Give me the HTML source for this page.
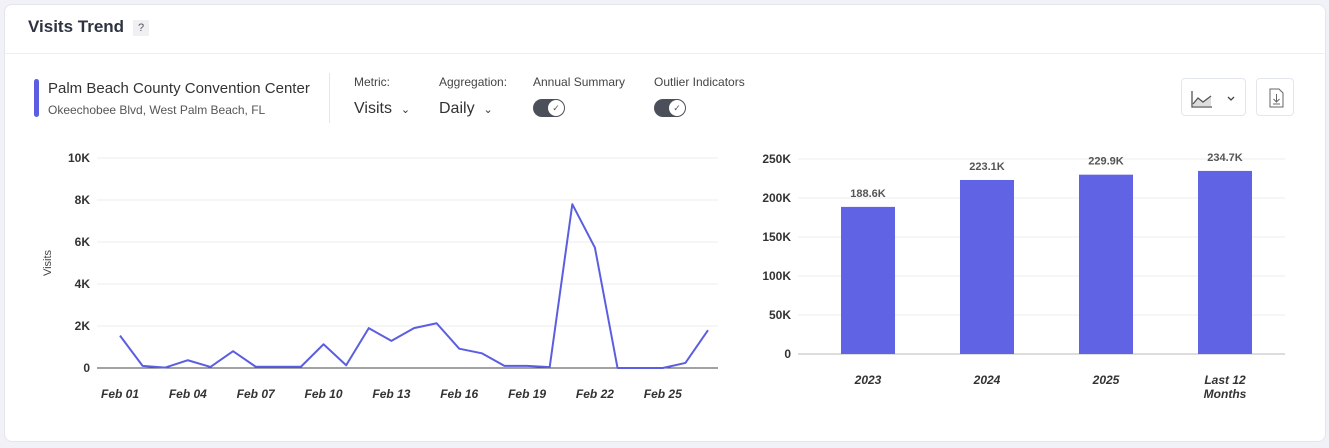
<!DOCTYPE html>
<html><head><meta charset="utf-8"><style>
body{margin:0;width:1329px;height:448px;background:#f0f2f7;font-family:"Liberation Sans",sans-serif;overflow:hidden;position:relative}
.card{position:absolute;left:4px;top:4px;width:1320px;height:436px;background:#fff;border:1px solid #e3e6ec;border-radius:8px}
.abs{position:absolute}
.t{color:#333}
</style></head><body>
<div class="card"></div>
<div class="abs t" style="left:28px;top:17px;font-size:17px;font-weight:bold;color:#2d3340">Visits Trend</div>
<div class="abs" style="left:133px;top:20px;width:16px;height:16px;background:#eef0f3;font-size:11px;text-align:center;line-height:16px;color:#555">?</div>
<div class="abs" style="left:5px;top:53px;width:1319px;height:1px;background:#eceef2"></div>
<div class="abs" style="left:34px;top:79px;width:5px;height:38px;background:#5b5ee0;border-radius:3px"></div>
<div class="abs t" style="left:48px;top:80px;font-size:15px">Palm Beach County Convention Center</div>
<div class="abs" style="left:48px;top:103px;font-size:12px;color:#555">Okeechobee Blvd, West Palm Beach, FL</div>
<div class="abs" style="left:329px;top:73px;width:1px;height:50px;background:#e3e6ec"></div>
<div class="abs" style="left:354px;top:75px;font-size:12px;color:#444">Metric:</div>
<div class="abs t" style="left:354px;top:100px;font-size:16px">Visits &nbsp;<span style="font-size:11px">&#8964;</span></div>
<div class="abs" style="left:439px;top:75px;font-size:12px;color:#444">Aggregation:</div>
<div class="abs t" style="left:439px;top:100px;font-size:16px">Daily &nbsp;<span style="font-size:11px">&#8964;</span></div>
<div class="abs" style="left:533px;top:75px;font-size:12px;color:#444">Annual Summary</div>
<div class="abs" style="left:533px;top:99px;width:32px;height:18px;background:#4a4f5a;border-radius:9px"><div style="position:absolute;right:1px;top:1px;width:16px;height:16px;border-radius:50%;background:#fff;font-size:9px;text-align:center;line-height:16px;color:#555">✓</div></div>
<div class="abs" style="left:654px;top:75px;font-size:12px;color:#444">Outlier Indicators</div>
<div class="abs" style="left:654px;top:99px;width:32px;height:18px;background:#4a4f5a;border-radius:9px"><div style="position:absolute;right:1px;top:1px;width:16px;height:16px;border-radius:50%;background:#fff;font-size:9px;text-align:center;line-height:16px;color:#555">✓</div></div>
<div class="abs" style="left:1181px;top:78px;width:65px;height:38px;border:1px solid #e3e6ec;border-radius:4px;box-sizing:border-box">
<svg width="65" height="38" style="position:absolute;left:0;top:0"><path d="M10 12 V28 H30" stroke="#555" fill="none" stroke-width="1.3"/><path d="M11 25 L16 19 L21 23 L29 17 V27 H11Z" fill="#ddd"/><path d="M11 25 L16 19 L21 23 L29 17" stroke="#555" fill="none" stroke-width="1.3"/><path d="M46 18 L49 21 L52 18" stroke="#444" fill="none" stroke-width="1.3"/></svg></div>
<div class="abs" style="left:1256px;top:78px;width:38px;height:38px;border:1px solid #e3e6ec;border-radius:4px;box-sizing:border-box">
<svg width="38" height="38" style="position:absolute;left:0;top:0"><path d="M13 10 H22 L26 14 V28 H13Z" fill="none" stroke="#666"/><path d="M19.5 15 V23 M16.5 20 L19.5 23 L22.5 20 M16 25 H23" stroke="#666" fill="none"/></svg></div>

<svg class="abs" style="left:0;top:0" width="1329" height="448">
<g id="line" font-family="Liberation Sans" font-size="12"></g>
<g id="bar" font-family="Liberation Sans" font-size="12"></g>
</svg>
<script>
const days=["Feb 01","Feb 02","Feb 03","Feb 04","Feb 05","Feb 06","Feb 07","Feb 08","Feb 09","Feb 10","Feb 11","Feb 12","Feb 13","Feb 14","Feb 15","Feb 16","Feb 17","Feb 18","Feb 19","Feb 20","Feb 21","Feb 22","Feb 23","Feb 24","Feb 25","Feb 26","Feb 27"];
const visits=[1540,100,20,370,50,800,60,60,60,1130,130,1900,1290,1900,2130,920,700,100,100,40,7800,5730,0,0,0,240,1800];
const lineTicks=[0,2000,4000,6000,8000,10000];
const lineTickLabels=["0","2K","4K","6K","8K","10K"];
const years=["2023","2024","2025","Last 12 Months"];
const yearVisits=[188600,223100,229900,234700];
const yearLabels=["188.6K","223.1K","229.9K","234.7K"];
const barTicks=[0,50000,100000,150000,200000,250000];
const barTickLabels=["0","50K","100K","150K","200K","250K"];
const NS="http://www.w3.org/2000/svg";
function mk(p,tag,a,txt){const e=document.createElementNS(NS,tag);for(const k in a)e.setAttribute(k,a[k]);if(txt!==undefined)e.textContent=txt;p.appendChild(e);return e;}
// line chart
const L=document.getElementById('line');
const lx=i=>120+i*(708-120)/(days.length-1);
const ly=v=>368-v*(368-158)/10000;
lineTicks.forEach((t,i)=>{
 const g=mk(L,'line',{x1:97,x2:718,y1:ly(t),y2:ly(t),stroke:i==0?'#444':'#ececec','stroke-width':1});
 
 
 const tx=mk(L,'text',{x:90,y:ly(t)+4,'text-anchor':'end','font-weight':'bold',fill:'#333'},lineTickLabels[i]);
 
 
});
days.forEach((d,i)=>{ if(i%3==0){
 const tx=mk(L,'text',{x:lx(i),y:398,'text-anchor':'middle','font-weight':'bold','font-style':'italic',fill:'#333'},d);
 
 
}});
const yt=mk(L,'text',{transform:'translate(51,263) rotate(-90)','text-anchor':'middle',fill:'#444','font-size':'11'},'Visits');


const pl=mk(L,'polyline',{points:visits.map((v,i)=>lx(i)+','+ly(v)).join(' '),fill:'none',stroke:'#5b5ee0','stroke-width':2,'stroke-linejoin':'round'});


// bar chart
const B=document.getElementById('bar');
const by=v=>354-v*(354-159)/250000;
const bx=i=>868+i*119;
barTicks.forEach((t,i)=>{
 const g=mk(B,'line',{x1:798,x2:1285,y1:by(t),y2:by(t),stroke:i==0?'#bbb':'#ececec','stroke-width':1});
 
 
 const tx=mk(B,'text',{x:791,y:by(t)+4,'text-anchor':'end','font-weight':'bold',fill:'#333'},barTickLabels[i]);
 
 
});
years.forEach((y,i)=>{
 const r=mk(B,'rect',{x:bx(i)-27,y:by(yearVisits[i]),width:54,height:354-by(yearVisits[i]),fill:'#5f63e4'});
 
 
 const v=mk(B,'text',{x:bx(i),y:by(yearVisits[i])-10,'text-anchor':'middle','font-weight':'bold','font-size':'11',fill:'#555'},yearLabels[i]);
 
 
 const parts=y=="Last 12 Months"?["Last 12","Months"]:[y];
 parts.forEach((p,j)=>{
  const tx=mk(B,'text',{x:bx(i),y:384+j*14,'text-anchor':'middle','font-weight':'bold','font-style':'italic',fill:'#333'},p);
  
  
 });
});
</script>
</body></html>
